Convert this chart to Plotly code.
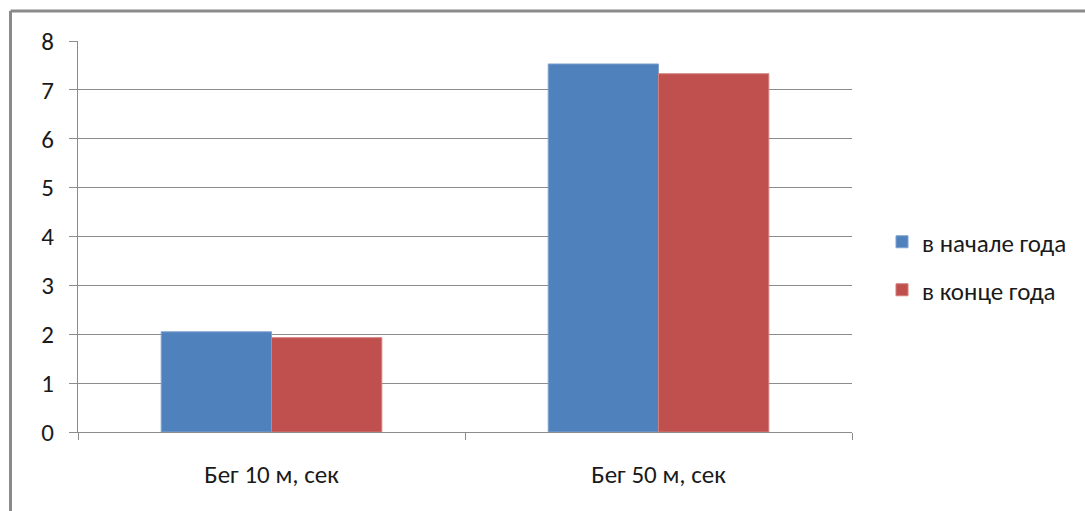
import plotly.graph_objects as go

# Results of running tests: start vs end of the school year
categories = ["Бег 10 м, сек", "Бег 50 м, сек"]
start_of_year = [2.05, 7.53]
end_of_year = [1.93, 7.33]
series_names = ["в начале года", "в конце года"]
y_ticks = [0, 1, 2, 3, 4, 5, 6, 7, 8]

FONT = "Carlito, Lato, Open Sans, sans-serif"
TEXT = "#1a1a1a"
GRID = "#8c8c8c"
FS = 25

W, H = 1085, 511
L, R, T, B = 78, 233, 41, 79
pw, ph = W - L - R, H - T - B


def px_x(px):
    return (px - L) / pw


def px_y(py):
    return (H - B - py) / ph


fig = go.Figure()
fig.add_trace(go.Bar(
    x=categories, y=start_of_year, name=series_names[0],
    marker=dict(color="#4F81BD", line=dict(color="#7FA2D0", width=1)),
    legend="legend",
))
fig.add_trace(go.Bar(
    x=categories, y=end_of_year, name=series_names[1],
    marker=dict(color="#C0504D", line=dict(color="#D27F7D", width=1)),
    legend="legend2",
))

legend_common = dict(
    xanchor="left", yanchor="middle", x=px_x(882),
    font=dict(family=FONT, size=FS, color=TEXT),
    bgcolor="rgba(0,0,0,0)", itemwidth=30,
)

fig.update_layout(
    width=W, height=H,
    margin=dict(l=L, r=R, t=T, b=B),
    paper_bgcolor="white", plot_bgcolor="white",
    barmode="group", bargap=0.43, bargroupgap=0,
    font=dict(family=FONT, size=FS, color=TEXT),
    showlegend=True,
    legend=dict(y=px_y(242), **legend_common),
    legend2=dict(y=px_y(290), **legend_common),
    xaxis=dict(
        showline=True, linecolor=GRID, linewidth=1,
        ticks="outside", ticklen=7, tickcolor=GRID, tickson="boundaries",
        showgrid=False, ticklabelstandoff=20,
        tickfont=dict(family=FONT, size=FS, color=TEXT),
    ),
    yaxis=dict(
        range=[0, 8], tickvals=y_ticks,
        showline=True, linecolor=GRID, linewidth=1,
        showgrid=True, gridcolor=GRID, gridwidth=1,
        ticks="outside", ticklen=8, tickcolor=GRID,
        ticklabelstandoff=10, zeroline=False,
        tickfont=dict(family=FONT, size=FS, color=TEXT),
    ),
    shapes=[
        # Outer chart frame (top and left edges)
        dict(type="line", xref="paper", yref="paper",
             x0=px_x(10.5), x1=px_x(W + 5), y0=px_y(11), y1=px_y(11),
             line=dict(color="#8a8a8a", width=3)),
        dict(type="line", xref="paper", yref="paper",
             x0=px_x(10.5), x1=px_x(10.5), y0=px_y(11), y1=px_y(H + 5),
             line=dict(color="#8a8a8a", width=3)),
    ],
)

fig.write_html("out.html")
